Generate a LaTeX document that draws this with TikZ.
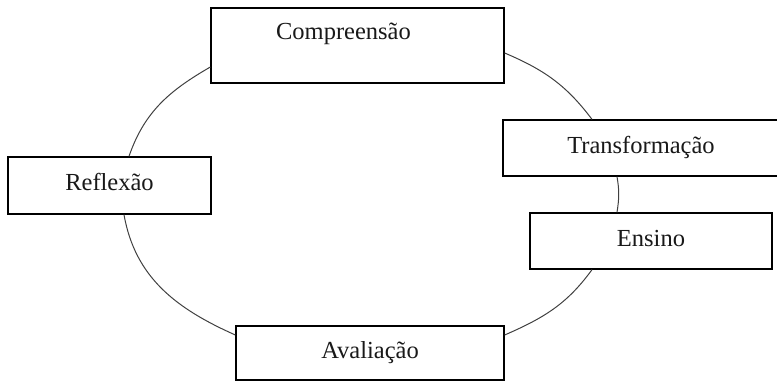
\documentclass[tikz,border=0pt]{standalone}
\usepackage{fontspec}
\setmainfont{Liberation Serif}

\begin{document}
\begin{tikzpicture}[x=1pt, y=1pt,
    etapa/.style={draw, line width=1.3pt, fill=white, inner sep=0pt,
        text height=16pt, text depth=6pt, text=black!90,
        font=\fontsize{24.5}{29}\selectfont},
    ciclo/.style={draw=black!75, line width=1pt}]
        \useasboundingbox (0,0) rectangle (777,381);

        \node[etapa, minimum width=293pt, minimum height=75pt, text height=10pt, text depth=21pt] (comp) at (357.5,335.5) {Compreensão\hspace*{28pt}};
        \node[etapa, minimum width=276pt, minimum height=56pt] (trans) at (641,233) {Transformação};
        \node[etapa, minimum width=203pt, minimum height=57pt] (refl) at (109.5,195.5) {Reflexão};
        \node[etapa, minimum width=242pt, minimum height=56pt] (ens) at (651,140) {Ensino};
        \node[etapa, minimum width=268pt, minimum height=54pt] (aval) at (370,28) {Avaliação};

        \draw[ciclo] ([yshift=-21.5pt]comp.west) to[out=210, in=71] ([xshift=19.5pt]refl.north);
        \draw[ciclo] ([yshift=-7.5pt]comp.east) to[out=-23, in=127] ([xshift=-49pt]trans.north);
        \draw[ciclo] ([xshift=-24pt]trans.south) to[out=-80, in=81] ([xshift=-34pt]ens.north);
        \draw[ciclo] ([xshift=-59pt]ens.south) to[out=234, in=23.5] ([yshift=18pt]aval.east);
        \draw[ciclo] ([xshift=14.5pt]refl.south) to[out=-80, in=156] ([yshift=18pt]aval.west);
    \end{tikzpicture}
\end{document}
